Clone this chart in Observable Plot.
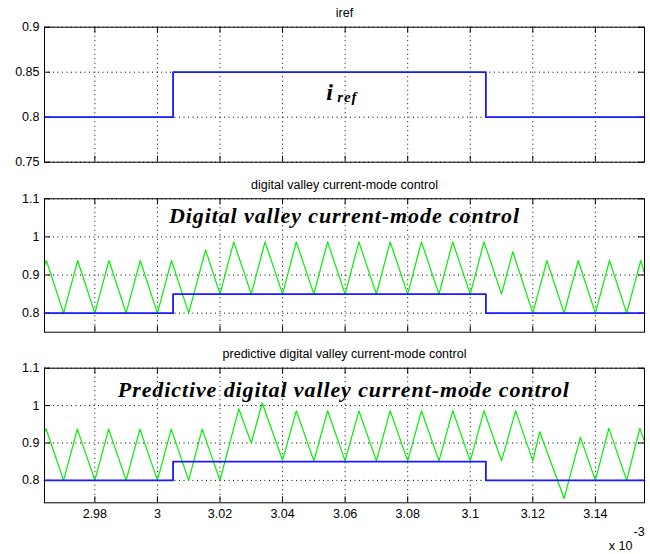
<!DOCTYPE html>
<html><head><meta charset="utf-8">
<script src="https://cdn.jsdelivr.net/npm/d3@7"></script>
<script src="https://cdn.jsdelivr.net/npm/@observablehq/plot@0.6"></script>
<style>
body{margin:0;background:#fff;}
#chart{position:relative;width:650px;height:554px;background:#fff;overflow:hidden;}
#chart svg{position:absolute;left:0;}
</style></head><body><div id="chart"></div>
<script>
// x values in units of 1e-3 s
const xDomain = [2.9639, 3.1557];
const xTicks = [2.98, 3.00, 3.02, 3.04, 3.06, 3.08, 3.10, 3.12, 3.14];
const xTickLabels = ["2.98","3","3.02","3.04","3.06","3.08","3.1","3.12","3.14"];

const y1Ticks = [0.75, 0.80, 0.85, 0.90];
const y1Labels = ["0.75","0.8","0.85","0.9"];
const y2Ticks = [0.8, 0.9, 1.0, 1.1];
const y2Labels = ["0.8","0.9","1","1.1"];

const titles = ["iref", "digital valley current-mode control", "predictive digital valley current-mode control"];

// reference current (step)
const irefT = [2.9639, 3.005, 3.105, 3.1557];
const irefV = [0.80, 0.85, 0.80, 0.80];

// digital valley current-mode control: inductor current vertices
const dvT = [2.9639, 2.9645, 2.97, 2.9745, 2.98, 2.9845, 2.99, 2.9945, 3.00, 3.0045, 3.01, 3.0154, 3.02, 3.0244, 3.03, 3.0344, 3.04, 3.0444, 3.05, 3.0544, 3.06, 3.0644, 3.07, 3.0744, 3.08, 3.0844, 3.09, 3.0944, 3.10, 3.1044, 3.11, 3.1136, 3.12, 3.1245, 3.13, 3.1345, 3.14, 3.1445, 3.15, 3.1545, 3.1557];
const dvV = [0.925, 0.938, 0.80, 0.938, 0.80, 0.938, 0.80, 0.938, 0.80, 0.938, 0.80, 0.966, 0.85, 0.987, 0.85, 0.987, 0.85, 0.987, 0.85, 0.987, 0.85, 0.987, 0.85, 0.987, 0.85, 0.987, 0.85, 0.987, 0.85, 0.987, 0.85, 0.961, 0.80, 0.938, 0.80, 0.938, 0.80, 0.938, 0.80, 0.938, 0.905];

// predictive digital valley current-mode control
const pdvT = [2.9639, 2.9644, 2.97, 2.9744, 2.98, 2.9844, 2.99, 2.9944, 3.00, 3.0044, 3.01, 3.0143, 3.02, 3.0260, 3.03, 3.0335, 3.04, 3.0444, 3.05, 3.0544, 3.06, 3.0644, 3.07, 3.0744, 3.08, 3.0844, 3.09, 3.0944, 3.10, 3.1044, 3.11, 3.1145, 3.12, 3.1222, 3.13, 3.1352, 3.14, 3.1443, 3.15, 3.1542, 3.1557];
const pdvV = [0.928, 0.938, 0.80, 0.937, 0.80, 0.937, 0.80, 0.937, 0.80, 0.937, 0.80, 0.937, 0.80, 0.991, 0.90, 1.007, 0.854, 0.986, 0.852, 0.986, 0.852, 0.986, 0.852, 0.986, 0.852, 0.986, 0.852, 0.986, 0.852, 0.986, 0.852, 0.986, 0.852, 0.930, 0.752, 0.915, 0.80, 0.939, 0.80, 0.939, 0.905];

const iref = irefT.map((t, i) => ({t, v: irefV[i]}));
const dv = dvT.map((t, i) => ({t, v: dvV[i]}));
const pdv = pdvT.map((t, i) => ({t, v: pdvV[i]}));

const W = 650, ML = 44, MR = 6;
const BLUE = "#1a1aff", GREEN = "#00f000";
const container = document.getElementById("chart");

function panel({top, height, mt, mb, yDomain, yTicks, yLabels, title, green, ann, xAxis}) {
  const innerH = height - mt - mb;
  const innerW = W - ML - MR;
  const marks = [
    Plot.ruleX(xTicks, {x: d => d, stroke: "black", strokeDasharray: "1,3.5", strokeWidth: 1}),
    Plot.ruleY(yTicks, {y: d => d, stroke: "black", strokeDasharray: "1,3.5", strokeWidth: 1}),
    Plot.ruleX(xTicks, {x: d => d, stroke: "black", insetTop: innerH - 6}),
    Plot.ruleX(xTicks, {x: d => d, stroke: "black", insetBottom: innerH - 6}),
    Plot.ruleY(yTicks, {y: d => d, stroke: "black", insetRight: innerW - 6}),
    Plot.ruleY(yTicks, {y: d => d, stroke: "black", insetLeft: innerW - 6}),
  ];
  if (green) marks.push(Plot.line(green, {x: "t", y: "v", stroke: GREEN, strokeWidth: 1.2}));
  marks.push(Plot.line(iref, {x: "t", y: "v", stroke: BLUE, strokeWidth: 1.8, curve: "step-after"}));
  marks.push(Plot.frame({stroke: "black", strokeWidth: 1}));
  marks.push(Plot.text([title], {text: d => d, frameAnchor: "top", dy: -10, lineAnchor: "bottom", fontSize: 12.5}));
  for (const a of ann) {
    marks.push(Plot.text([a], {x: "x", y: "y", text: "text", textAnchor: a.anchor, lineAnchor: "bottom",
      fontFamily: "Liberation Serif", fontWeight: "bold", fontStyle: "italic", fontSize: a.size, fill: "black"}));
  }
  if (xAxis) {
    marks.push(Plot.text(["x 10"], {text: d => d, frameAnchor: "bottom-right", dx: -12, dy: 47, textAnchor: "end", lineAnchor: "bottom", fontSize: 12.5}));
    marks.push(Plot.text(["-3"], {text: d => d, frameAnchor: "bottom-right", dx: -11, dy: 33, textAnchor: "start", lineAnchor: "bottom", fontSize: 12.5}));
  }
  const svg = Plot.plot({
    width: W, height,
    marginLeft: ML, marginRight: MR, marginTop: mt, marginBottom: mb,
    style: {fontFamily: "'Liberation Sans', Arial, sans-serif", fontSize: "12.5px", background: "transparent", overflow: "visible", color: "black"},
    x: {domain: xDomain, ticks: xTicks, tickSize: 0, tickPadding: 6, label: null,
        tickFormat: d => xTickLabels[xTicks.findIndex(t => Math.abs(t - d) < 1e-9)],
        axis: xAxis ? "bottom" : null},
    y: {domain: yDomain, ticks: yTicks, tickSize: 0, tickPadding: 5, label: null,
        tickFormat: d => yLabels[yTicks.findIndex(t => Math.abs(t - d) < 1e-9)]},
    marks
  });
  svg.style.top = top + "px";
  d3.select(svg).selectAll("g[font-family='Liberation Serif']").attr("letter-spacing", "0.9px");
  container.appendChild(svg);
}

panel({top: 0, height: 172, mt: 26.7, mb: 10.3, yDomain: [0.75, 0.9], yTicks: y1Ticks, yLabels: y1Labels,
  title: titles[0], green: null, xAxis: false,
  ann: [{x: 3.0540, y: 0.8191, text: "i", size: 24, anchor: "start"},
        {x: 3.0575, y: 0.8170, text: "ref", size: 15, anchor: "start"}]});

panel({top: 172, height: 170, mt: 26.3, mb: 10.3, yDomain: [0.75, 1.1], yTicks: y2Ticks, yLabels: y2Labels,
  title: titles[1], green: dv, xAxis: false,
  ann: [{x: 3.0598, y: 1.0352, text: "Digital valley current-mode control", size: 22, anchor: "middle"}]});

panel({top: 342, height: 212, mt: 25.7, mb: 51.7, yDomain: [0.74, 1.1], yTicks: y2Ticks, yLabels: y2Labels,
  title: titles[2], green: pdv, xAxis: true,
  ann: [{x: 3.0596, y: 1.0224, text: "Predictive digital valley current-mode control", size: 22, anchor: "middle"}]});
</script></body></html>
